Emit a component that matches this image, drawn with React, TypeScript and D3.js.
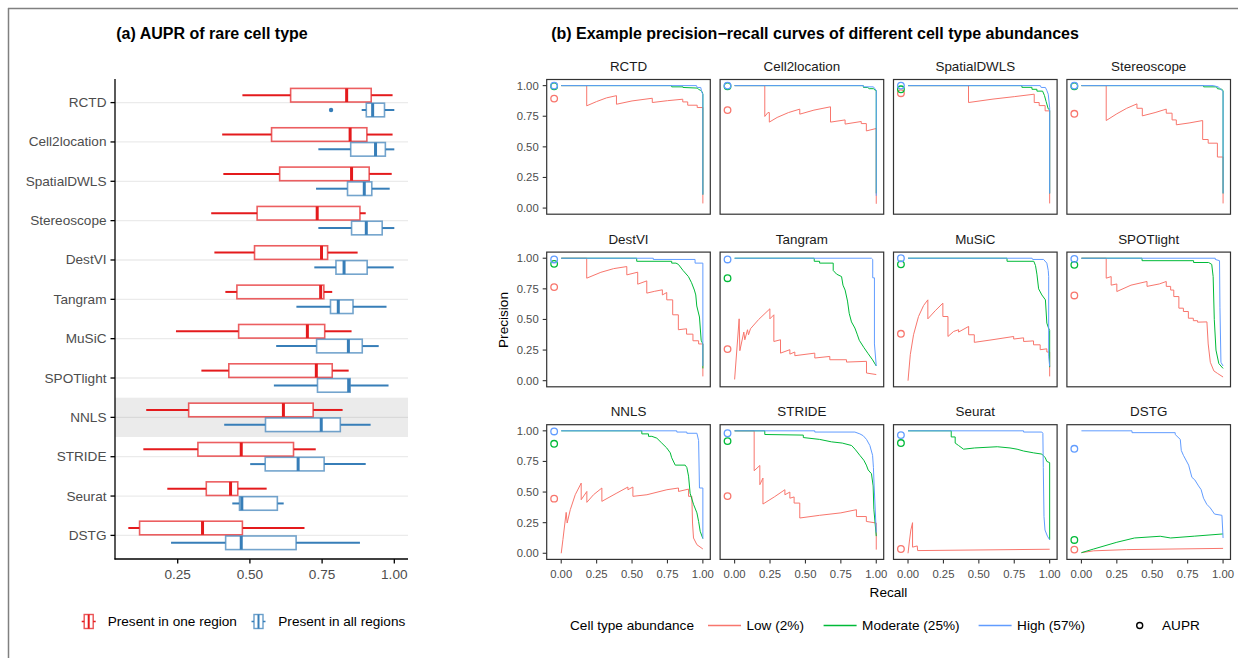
import React from "react";
import * as d3 from "d3";

// ---------- Panel (a) data ----------
const methods = ["RCTD","Cell2location","SpatialDWLS","Stereoscope","DestVI","Tangram","MuSiC","SPOTlight","NNLS","STRIDE","Seurat","DSTG"];
// [lower whisker, Q1, median, Q3, upper whisker]
const oneRegionStats: number[][] = [
  [0.474,0.641,0.835,0.920,0.994],
  [0.404,0.575,0.847,0.905,0.994],
  [0.408,0.603,0.852,0.913,0.991],
  [0.366,0.525,0.733,0.881,0.901],
  [0.377,0.516,0.748,0.769,0.873],
  [0.415,0.455,0.745,0.756,0.785],
  [0.244,0.461,0.699,0.759,0.852],
  [0.332,0.427,0.730,0.785,0.842],
  [0.141,0.288,0.616,0.719,0.821],
  [0.131,0.320,0.470,0.651,0.728],
  [0.214,0.349,0.433,0.458,0.558],
  [0.079,0.118,0.336,0.474,0.689],
];
const allRegionsStats: number[][] = [
  [0.887,0.903,0.925,0.966,1.000],
  [0.737,0.849,0.935,0.969,1.000],
  [0.729,0.838,0.896,0.922,0.984],
  [0.737,0.852,0.903,0.958,1.000],
  [0.723,0.798,0.826,0.906,0.998],
  [0.661,0.779,0.806,0.857,0.973],
  [0.591,0.731,0.841,0.889,0.946],
  [0.583,0.734,0.842,0.847,0.980],
  [0.411,0.554,0.747,0.813,0.918],
  [0.501,0.553,0.667,0.757,0.901],
  [0.439,0.464,0.472,0.595,0.617],
  [0.227,0.416,0.470,0.660,0.881],
];
const allRegionsOutliers = [{ method: "RCTD", value: 0.781 }];
const highlightMethod = "NNLS";
const xTicksA = [0.25, 0.5, 0.75, 1.0];

// ---------- Panel (b) data ----------
type Pt = [number, number];
const facets = ["RCTD","Cell2location","SpatialDWLS","Stereoscope","DestVI","Tangram","MuSiC","SPOTlight","NNLS","STRIDE","Seurat","DSTG"];
const prTicks = [0, 0.25, 0.5, 0.75, 1.0];

const curvesLow: Record<string, Pt[]> = {
  RCTD: [[0,1],[0.18,1],[0.18,0.835],[0.25,0.87],[0.32,0.9],[0.39,0.918],[0.39,0.848],[0.5,0.875],[0.643,0.897],[0.643,0.862],[0.75,0.877],[0.858,0.889],[0.858,0.867],[0.893,0.867],[0.893,0.84],[0.96,0.84],[0.96,0.821],[1,0.821],[1,0.038]],
  Cell2location: [[0,1],[0.213,1],[0.213,0.748],[0.235,0.78],[0.245,0.78],[0.245,0.702],[0.3,0.74],[0.38,0.78],[0.46,0.808],[0.46,0.767],[0.56,0.8],[0.677,0.827],[0.677,0.702],[0.78,0.72],[0.78,0.686],[0.894,0.707],[0.894,0.69],[0.93,0.69],[0.93,0.63],[1,0.65],[1,0.035]],
  SpatialDWLS: [[0,1],[0.427,1],[0.427,0.862],[0.6,0.89],[0.75,0.91],[0.891,0.93],[0.891,0.862],[0.926,0.862],[0.926,0.837],[0.968,0.837],[0.968,0.794],[1,0.794],[1,0.038]],
  Stereoscope: [[0,1],[0.175,1],[0.175,0.715],[0.25,0.77],[0.32,0.815],[0.392,0.851],[0.392,0.815],[0.43,0.815],[0.43,0.753],[0.52,0.78],[0.599,0.808],[0.599,0.775],[0.64,0.775],[0.64,0.72],[0.67,0.72],[0.67,0.68],[0.76,0.695],[0.856,0.715],[0.856,0.56],[0.895,0.56],[0.895,0.53],[0.96,0.53],[0.96,0.417],[1,0.417],[1,0.038]],
  DestVI: [[0,1],[0.18,1],[0.18,0.837],[0.28,0.885],[0.37,0.915],[0.463,0.932],[0.463,0.864],[0.54,0.886],[0.54,0.788],[0.604,0.815],[0.604,0.715],[0.66,0.73],[0.714,0.742],[0.714,0.70],[0.745,0.72],[0.745,0.66],[0.787,0.66],[0.787,0.538],[0.827,0.538],[0.827,0.416],[0.885,0.424],[0.885,0.38],[0.93,0.38],[0.93,0.326],[0.97,0.326],[0.97,0.30],[1,0.30],[1,0.035]],
  Tangram: [[0,0.01],[0.032,0.505],[0.037,0.245],[0.065,0.397],[0.072,0.334],[0.091,0.416],[0.098,0.375],[0.112,0.424],[0.17,0.5],[0.249,0.587],[0.249,0.505],[0.277,0.538],[0.277,0.32],[0.324,0.334],[0.324,0.225],[0.39,0.253],[0.39,0.217],[0.425,0.234],[0.425,0.204],[0.566,0.225],[0.566,0.185],[0.672,0.198],[0.672,0.171],[0.79,0.171],[0.79,0.152],[0.931,0.158],[0.931,0.0625],[1,0.05]],
  MuSiC: [[0,0],[0.016,0.212],[0.039,0.375],[0.074,0.524],[0.11,0.614],[0.14,0.66],[0.14,0.505],[0.192,0.571],[0.246,0.633],[0.246,0.524],[0.282,0.524],[0.282,0.361],[0.322,0.402],[0.357,0.416],[0.357,0.397],[0.428,0.443],[0.428,0.375],[0.468,0.375],[0.468,0.313],[0.6,0.335],[0.746,0.361],[0.746,0.34],[0.816,0.35],[0.816,0.32],[0.886,0.325],[0.886,0.293],[0.933,0.293],[0.933,0.253],[0.98,0.26],[0.98,0.234],[1,0.234],[1,0.035]],
  SPOTlight: [[0,1],[0.175,1],[0.175,0.837],[0.21,0.85],[0.21,0.78],[0.25,0.79],[0.25,0.728],[0.35,0.78],[0.463,0.81],[0.463,0.77],[0.55,0.79],[0.599,0.81],[0.599,0.77],[0.63,0.77],[0.63,0.74],[0.652,0.74],[0.652,0.687],[0.688,0.687],[0.688,0.592],[0.72,0.592],[0.72,0.565],[0.755,0.565],[0.755,0.51],[0.79,0.51],[0.79,0.49],[0.82,0.49],[0.82,0.478],[0.886,0.48],[0.895,0.3],[0.91,0.15],[0.935,0.08],[0.96,0.06],[1,0.03]],
  NNLS: [[0,0],[0.012,0.111],[0.026,0.247],[0.035,0.334],[0.042,0.247],[0.064,0.356],[0.099,0.478],[0.141,0.573],[0.141,0.4375],[0.181,0.505],[0.181,0.416],[0.228,0.478],[0.287,0.533],[0.287,0.424],[0.393,0.492],[0.471,0.541],[0.471,0.519],[0.506,0.541],[0.506,0.465],[0.605,0.478],[0.746,0.519],[0.828,0.533],[0.828,0.505],[0.899,0.524],[0.899,0.465],[0.922,0.465],[0.927,0.247],[0.934,0.125],[0.958,0.07],[1,0.035]],
  STRIDE: [[0,1],[0.138,1],[0.138,0.674],[0.178,0.717],[0.178,0.56],[0.2,0.614],[0.2,0.402],[0.28,0.46],[0.355,0.519],[0.355,0.478],[0.39,0.5],[0.39,0.45],[0.42,0.46],[0.42,0.41],[0.46,0.41],[0.46,0.288],[0.6,0.31],[0.75,0.33],[0.86,0.356],[0.86,0.3],[0.93,0.3],[0.93,0.26],[1,0.247],[1,0.03]],
  Seurat: [[0,0],[0.01,0.1],[0.02,0.19],[0.032,0.25],[0.032,0.05],[0.065,0.06],[0.068,0.022],[1,0.033]],
  DSTG: [[0,0.005],[0.087,0.02],[0.32,0.03],[1,0.04]],
};
const curvesModerate: Record<string, Pt[]> = {
  RCTD: [[0,1],[0.78,1],[0.78,0.99],[0.86,0.99],[0.86,0.985],[0.96,0.98],[0.97,0.97],[0.985,0.96],[0.995,0.95],[1,0.93],[1,0.11]],
  Cell2location: [[0,1],[0.908,1],[0.91,0.985],[0.94,0.985],[0.95,0.975],[0.98,0.975],[0.99,0.965],[1,0.96],[1,0.12]],
  SpatialDWLS: [[0,1],[0.804,1],[0.804,0.986],[0.875,0.986],[0.875,0.97],[0.91,0.97],[0.91,0.955],[0.95,0.955],[0.963,0.92],[0.975,0.87],[0.99,0.81],[1,0.8],[1,0.12]],
  Stereoscope: [[0,1],[0.863,1],[0.863,0.99],[0.955,0.99],[0.96,0.975],[0.99,0.97],[1,0.96],[1,0.12]],
  DestVI: [[0,1],[0.533,1],[0.533,0.975],[0.78,0.975],[0.78,0.96],[0.81,0.96],[0.827,0.95],[0.86,0.9],[0.898,0.85],[0.92,0.8],[0.94,0.74],[0.95,0.7],[0.957,0.61],[0.976,0.52],[0.988,0.33],[1,0.3],[1,0.1]],
  Tangram: [[0,1],[0.562,1],[0.562,0.975],[0.6,0.975],[0.6,0.96],[0.696,0.96],[0.696,0.9],[0.72,0.87],[0.755,0.85],[0.765,0.78],[0.78,0.74],[0.797,0.65],[0.809,0.55],[0.825,0.48],[0.849,0.43],[0.865,0.38],[0.88,0.33],[0.913,0.27],[0.943,0.22],[0.974,0.17],[1,0.12]],
  MuSiC: [[0,1],[0.699,1],[0.699,0.975],[0.888,0.975],[0.9,0.94],[0.91,0.87],[0.922,0.75],[0.945,0.7],[0.97,0.66],[0.98,0.47],[0.992,0.43],[1,0.41],[1,0.11]],
  SPOTlight: [[0,1],[0.428,1],[0.428,0.98],[0.792,0.98],[0.792,0.965],[0.898,0.965],[0.92,0.95],[0.93,0.85],[0.938,0.5],[0.95,0.25],[0.97,0.14],[1,0.1]],
  NNLS: [[0,1],[0.569,1],[0.569,0.975],[0.616,0.975],[0.616,0.955],[0.64,0.955],[0.675,0.94],[0.71,0.9],[0.745,0.86],[0.77,0.82],[0.78,0.78],[0.805,0.72],[0.875,0.72],[0.887,0.7],[0.899,0.63],[0.91,0.49],[0.934,0.4],[0.958,0.33],[0.97,0.26],[0.981,0.18],[1,0.12]],
  STRIDE: [[0,1],[0.213,1],[0.213,0.97],[0.485,0.965],[0.485,0.945],[0.6,0.93],[0.684,0.91],[0.76,0.9],[0.826,0.88],[0.85,0.85],[0.884,0.8],[0.912,0.76],[0.93,0.72],[0.943,0.68],[0.966,0.65],[0.978,0.55],[0.983,0.36],[1,0.14]],
  Seurat: [[0,1],[0.305,1],[0.305,0.95],[0.333,0.95],[0.333,0.9],[0.357,0.88],[0.392,0.85],[0.47,0.86],[0.63,0.87],[0.72,0.86],[0.77,0.85],[0.816,0.835],[0.887,0.82],[0.945,0.81],[0.969,0.78],[0.98,0.75],[1,0.74],[1,0.11]],
  DSTG: [[0,0.005],[0.087,0.035],[0.25,0.09],[0.375,0.125],[0.556,0.139],[0.63,0.125],[0.8,0.14],[1,0.158]],
};
const curvesHigh: Record<string, Pt[]> = {
  RCTD: [[0,1],[0.955,1],[0.96,0.985],[0.985,0.985],[0.99,0.96],[0.995,0.94],[1,0.93],[1,0.11]],
  Cell2location: [[0,1],[0.908,1],[0.91,0.99],[0.98,0.99],[0.99,0.975],[1,0.96],[1,0.1]],
  SpatialDWLS: [[0,1],[0.934,1],[0.94,0.985],[0.97,0.985],[0.98,0.96],[0.99,0.93],[1,0.82],[1,0.12]],
  Stereoscope: [[0,1],[0.93,1],[0.965,0.99],[0.985,0.97],[1,0.95],[1,0.12]],
  DestVI: [[0,1],[0.65,1],[0.65,0.99],[0.945,0.99],[0.945,0.96],[1,0.96],[1,0.12]],
  Tangram: [[0,1],[0.966,1],[0.975,0.99],[0.975,0.84],[0.987,0.84],[0.987,0.3],[1,0.12]],
  MuSiC: [[0,1],[0.876,1],[0.88,0.99],[0.957,0.99],[0.98,0.96],[0.99,0.9],[0.993,0.85],[0.993,0.2],[1,0.117]],
  SPOTlight: [[0,1],[0.945,1],[0.945,0.99],[0.975,0.98],[0.978,0.6],[0.985,0.15],[1,0.12]],
  NNLS: [[0,1],[0.816,1],[0.816,0.99],[0.887,0.99],[0.887,0.98],[0.958,0.98],[0.97,0.92],[0.976,0.533],[1,0.533],[1,0.12]],
  STRIDE: [[0,1],[0.566,1],[0.566,0.99],[0.849,0.99],[0.884,0.975],[0.908,0.96],[0.931,0.93],[0.955,0.88],[0.974,0.8],[0.98,0.7],[0.985,0.55],[1,0.17]],
  Seurat: [[0,1],[0.816,1],[0.816,0.99],[0.945,0.99],[0.952,0.98],[0.955,0.7],[0.96,0.3],[0.967,0.19],[0.984,0.14],[1,0.11]],
  DSTG: [[0,1],[0.357,1],[0.357,0.985],[0.662,0.985],[0.662,0.97],[0.698,0.93],[0.705,0.84],[0.72,0.8],[0.757,0.72],[0.78,0.62],[0.8,0.6],[0.827,0.55],[0.845,0.52],[0.862,0.45],[0.885,0.4],[0.91,0.37],[0.94,0.32],[0.992,0.31],[1,0.125]],
};
const auprLow = [0.894,0.80,0.938,0.77,0.764,0.258,0.383,0.696,0.446,0.467,0.035,0.03];
const auprModerate = [0.995,0.995,0.97,0.995,0.954,0.837,0.95,0.946,0.894,0.916,0.9,0.109];
const auprHigh = [1.0,1.0,1.0,1.0,0.99,0.99,1.0,0.995,0.995,0.98,0.965,0.853];
const abundanceLevels = ["Low (2%)","Moderate (25%)","High (57%)"];

// ---------- styling ----------
const FONT = "'Liberation Sans', Arial, Helvetica, sans-serif";
const RED = "#E41A1C";
const BLUE = "#377EB8";
const COL_LOW = "#F8766D";
const COL_MOD = "#00BA38";
const COL_HIGH = "#619CFF";
const GRAY_TXT = "#4d4d4d";

export default function App() {
  // ----- panel (a) -----
  const ax = d3.scaleLinear().domain([0.0329, 1.0474]).range([115, 408]);
  const ay = d3.scalePoint<string>().domain(methods).range([79, 559]).padding(0.6);
  const step = ay.step();
  const dodge = 7.4;
  const halfH = 6.8;

  const boxplot = (stats: number[], cy: number, color: string, key: string) => {
    const [lo, q1, med, q3, hi] = stats;
    return (
      <g key={key}>
        <line x1={ax(lo)} x2={ax(q1)} y1={cy} y2={cy} stroke={color} strokeWidth={2} />
        <line x1={ax(q3)} x2={ax(hi)} y1={cy} y2={cy} stroke={color} strokeWidth={2} />
        <rect x={ax(q1)} y={cy - halfH} width={ax(q3) - ax(q1)} height={halfH * 2} fill="white" stroke={color} strokeOpacity={0.7} strokeWidth={1.6} />
        <line x1={ax(med)} x2={ax(med)} y1={cy - halfH} y2={cy + halfH} stroke={color} strokeWidth={3} />
      </g>
    );
  };

  // ----- panel (b) -----
  const pw = 163.6, ph = 134.7, left0 = 546.7, colPitch = 173.4, top0 = 79.5, rowPitch = 172.6;
  const xDom: [number, number] = [-0.1025, 1.0525];
  const yDom: [number, number] = [-0.05, 1.05];
  const curveSets: [Record<string, Pt[]>, number[], string][] = [
    [curvesLow, auprLow, COL_LOW],
    [curvesModerate, auprModerate, COL_MOD],
    [curvesHigh, auprHigh, COL_HIGH],
  ];

  const legendA = (x: number, color: string, label: string, textX: number) => {
    const cy = 621.5;
    return (
      <g key={label}>
        <line x1={x} x2={x + 14} y1={cy} y2={cy} stroke={color} strokeWidth={1.5} />
        <rect x={x + 2.5} y={cy - 7} width={9} height={14} fill="white" stroke={color} strokeOpacity={0.75} strokeWidth={1.4} />
        <line x1={x + 7} x2={x + 7} y1={cy - 7} y2={cy + 7} stroke={color} strokeWidth={2} />
        <text x={textX} y={cy} dominantBaseline="central" fontSize={13.6} fill="#000">{label}</text>
      </g>
    );
  };

  return (
    <svg width={1238} height={658} style={{ position: "absolute", left: 0, top: 0, background: "white" }} fontFamily={FONT}>
      <rect x={0} y={0} width={1238} height={658} fill="white" />
      <line x1={8} x2={1238} y1={8.5} y2={8.5} stroke="#808080" strokeWidth={1.5} />
      <line x1={8.5} x2={8.5} y1={8} y2={658} stroke="#808080" strokeWidth={1.5} />

      {/* ===== Panel (a) ===== */}
      <text x={212} y={39} textAnchor="middle" fontWeight="bold" fontSize={16} fill="#000">(a) AUPR of rare cell type</text>
      <rect x={115} y={(ay(highlightMethod) as number) - step / 2} width={293} height={step} fill="#ebebeb" />
      {methods.map((m) => (
        <line key={"g" + m} x1={115} x2={408} y1={ay(m)} y2={ay(m)} stroke={m === highlightMethod ? "#d9d9d9" : "#ebebeb"} strokeWidth={1.3} />
      ))}
      {methods.map((m, i) => boxplot(oneRegionStats[i], (ay(m) as number) - dodge, RED, "r" + m))}
      {methods.map((m, i) => boxplot(allRegionsStats[i], (ay(m) as number) + dodge, BLUE, "b" + m))}
      {allRegionsOutliers.map((o) => (
        <circle key={"o" + o.method} cx={ax(o.value)} cy={(ay(o.method) as number) + dodge} r={2.2} fill={BLUE} />
      ))}
      <line x1={115} x2={115} y1={79} y2={559.5} stroke="#000" strokeWidth={1.3} />
      <line x1={114.5} x2={408} y1={559} y2={559} stroke="#000" strokeWidth={1.3} />
      {methods.map((m) => (
        <g key={"yt" + m}>
          <line x1={110.5} x2={115} y1={ay(m)} y2={ay(m)} stroke="#000" strokeWidth={1.3} />
          <text x={106.5} y={ay(m)} textAnchor="end" dominantBaseline="central" fontSize={13.6} fill={GRAY_TXT}>{m}</text>
        </g>
      ))}
      {xTicksA.map((t) => (
        <g key={"xt" + t}>
          <line x1={ax(t)} x2={ax(t)} y1={559} y2={563.5} stroke="#000" strokeWidth={1.3} />
          <text x={ax(t)} y={574} textAnchor="middle" dominantBaseline="central" fontSize={13.6} fill={GRAY_TXT}>{t.toFixed(2)}</text>
        </g>
      ))}
      {legendA(81.7, RED, "Present in one region", 107.7)}
      {legendA(251.5, BLUE, "Present in all regions", 278.3)}

      {/* ===== Panel (b) ===== */}
      <text x={815} y={39} textAnchor="middle" fontWeight="bold" fontSize={16} fill="#000">(b) Example precision−recall curves of different cell type abundances</text>
      {facets.map((f, i) => {
        const col = i % 4, row = Math.floor(i / 4);
        const L = left0 + col * colPitch, T = top0 + row * rowPitch;
        const x = d3.scaleLinear().domain(xDom).range([L, L + pw]);
        const y = d3.scaleLinear().domain(yDom).range([T + ph, T]);
        const line = d3.line<Pt>().x((d) => x(d[0])).y((d) => y(d[1]));
        return (
          <g key={"f" + f}>
            <text x={L + pw / 2} y={T - 13} textAnchor="middle" dominantBaseline="central" fontSize={13.4} fill="#1a1a1a">{f}</text>
            <rect x={L} y={T} width={pw} height={ph} fill="white" />
            {curveSets.map(([cs, , color], k) => (
              <path key={"c" + k} d={line(cs[f]) || ""} fill="none" stroke={color} strokeWidth={1} />
            ))}
            {curveSets.map(([, au, color], k) => (
              <circle key={"p" + k} cx={x(-0.05)} cy={y(au[i])} r={3.3} fill="none" stroke={color} strokeWidth={1.3} />
            ))}
            <rect x={L} y={T} width={pw} height={ph} fill="none" stroke="#333333" strokeWidth={1.2} />
            {col === 0 && prTicks.map((t) => (
              <g key={"yt" + t}>
                <line x1={L - 4} x2={L} y1={y(t)} y2={y(t)} stroke="#333333" strokeWidth={1.1} />
                <text x={L - 8} y={y(t)} textAnchor="end" dominantBaseline="central" fontSize={11.3} fill={GRAY_TXT}>{t.toFixed(2)}</text>
              </g>
            ))}
            {row === 2 && prTicks.map((t) => (
              <g key={"xt" + t}>
                <line x1={x(t)} x2={x(t)} y1={T + ph} y2={T + ph + 4} stroke="#333333" strokeWidth={1.1} />
                <text x={x(t)} y={T + ph + 14.5} textAnchor="middle" dominantBaseline="central" fontSize={11.3} fill={GRAY_TXT}>{t.toFixed(2)}</text>
              </g>
            ))}
          </g>
        );
      })}
      <text transform="translate(503,320) rotate(-90)" textAnchor="middle" dominantBaseline="central" fontSize={13.6} fill="#000">Precision</text>
      <text x={888.5} y={592} textAnchor="middle" dominantBaseline="central" fontSize={13.6} fill="#000">Recall</text>

      {/* bottom legend */}
      <text x={570} y={625.5} dominantBaseline="central" fontSize={13.6} fill="#000">Cell type abundance</text>
      {[[708, COL_LOW], [823.6, COL_MOD], [978.6, COL_HIGH]].map(([lx, c], k) => (
        <g key={"lg" + k}>
          <line x1={lx as number} x2={(lx as number) + 33} y1={625.5} y2={625.5} stroke={c as string} strokeWidth={1.6} />
          <text x={(lx as number) + 38.5} y={625.5} dominantBaseline="central" fontSize={13.6} fill="#000">{abundanceLevels[k]}</text>
        </g>
      ))}
      <circle cx={1139.7} cy={625.5} r={3} fill="none" stroke="#000" strokeWidth={1.4} />
      <text x={1162} y={625.5} dominantBaseline="central" fontSize={13.6} fill="#000">AUPR</text>
    </svg>
  );
}
